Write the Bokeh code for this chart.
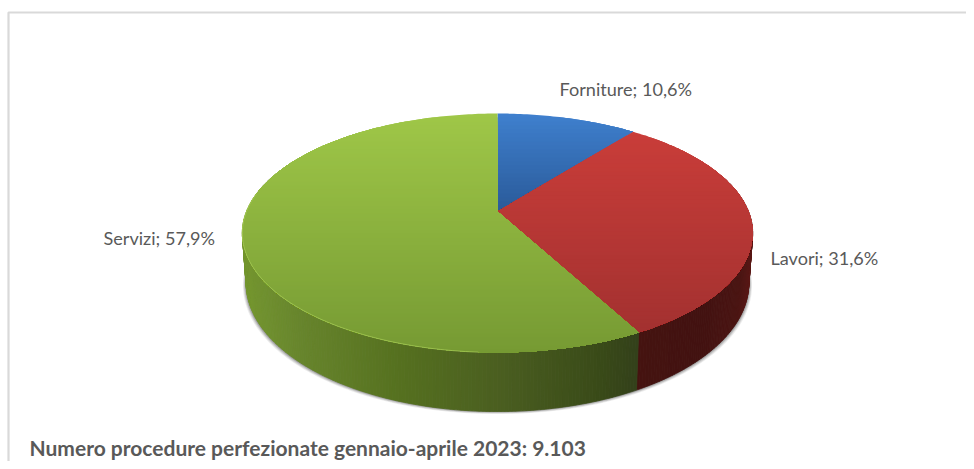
import numpy as np
from bokeh.plotting import figure
from bokeh.models import ColumnDataSource, Range1d
from bokeh.core.properties import value
from bokeh.embed import file_html
from bokeh.resources import INLINE

categories = ["Forniture", "Lavori", "Servizi"]
shares = [10.6, 31.6, 57.9]
footer = "Numero procedure perfezionate gennaio-aprile 2023: 9.103"

# face gradients (top of the slice -> bottom of the slice)
face_top = ["#3f80ce", "#c93d39", "#9fc748"]
face_bottom = ["#2a5a99", "#a33130", "#769a33"]
# side gradients, left to right
side_stops = [
    ([497, 640], ["#26456f", "#26456f"]),
    ([636, 700, 738, 752], ["#451310", "#421210", "#4a1412", "#5e1a17"]),
    ([245, 300, 400, 500, 600, 638], ["#74962f", "#67852c", "#55701f", "#4a5e20", "#394a18", "#33401a"]),
]

# view geometry of the tilted disc
CX, CY, R, B, K, D, RB = 497.0, 211.0, 251.0, 115.6, 0.18, 48.4, 0.985


def top_pt(t):
    u, v = np.sin(t), np.cos(t)
    w = 1 + K * v
    return CX + R * u / w, CY - B * v / w


def bot_pt(t):
    u, v = np.sin(t), np.cos(t)
    w = 1 + K * v
    return CX + RB * R * u / w, CY + (D - B * v) / w


def rgb(h):
    return np.array([int(h[i:i + 2], 16) for i in (1, 3, 5)], float)


def mix(c):
    return "#%02x%02x%02x" % tuple(int(round(x)) for x in c)


def clip_below(poly, y0):
    out = []
    n = len(poly)
    for i in range(n):
        a, b = poly[i], poly[(i + 1) % n]
        ia, ib = a[1] >= y0, b[1] >= y0
        if ia:
            out.append(a)
        if ia != ib:
            f = (y0 - a[1]) / (b[1] - a[1])
            out.append((a[0] + f * (b[0] - a[0]), y0))
    return out


p = figure(width=966, height=461, output_backend="svg", toolbar_location=None,
           x_range=Range1d(0, 966), y_range=Range1d(461, 0), min_border=0)
p.xaxis.visible = False
p.yaxis.visible = False
p.grid.visible = False
p.outline_line_color = None
p.background_fill_color = "white"
p.border_fill_color = "white"

# frame
p.line([8, 8, 966], [461, 12, 12], line_color="#d9d9d9", line_width=2.2)

total = sum(shares)
edges = np.concatenate([[0], np.cumsum(shares)]) / total * 2 * np.pi

# soft shadow under the side wall
tt = np.linspace(np.pi * 0.42, np.pi * 1.58, 240)
for off, al in [(4, 0.10), (3, 0.14), (2, 0.2), (1, 0.25)]:
    bx, by = bot_pt(tt)
    tx, ty = top_pt(tt[::-1])
    p.patch(np.concatenate([bx + np.sign(np.sin(tt)) * off * 0.8, tx]),
            np.concatenate([by + off * 0.6, ty]),
            fill_color="#404040", fill_alpha=al, line_color=None)

# side wall
xs, ys, cs = [], [], []
for i in range(len(shares)):
    a, b = edges[i], edges[i + 1]
    n = max(2, int((b - a) / 0.012))
    ts = np.linspace(a, b, n + 1)
    sx, sc = side_stops[i]
    sc = np.array([rgb(c) for c in sc])
    for t0, t1 in zip(ts[:-1], ts[1:]):
        if np.cos((t0 + t1) / 2) > 0.3:
            continue
        x0, y0 = top_pt(t0)
        x1, y1 = top_pt(t1)
        x2, y2 = bot_pt(t1)
        x3, y3 = bot_pt(t0)
        xm = (x0 + x1 + x2 + x3) / 4
        c = [np.interp(xm, sx, sc[:, j]) for j in range(3)]
        xs.append([x0, x1, x2, x3])
        ys.append([y0, y1, y2, y3])
        cs.append(mix(c))
p.patches("xs", "ys", source=ColumnDataSource(dict(xs=xs, ys=ys, c=cs)),
          fill_color="c", line_color="c", line_width=0.8)

# top faces: overlapping layers, each reaching to the slice's bottom, for the vertical gradient
xs, ys, cs = [], [], []
for i in range(len(shares)):
    ts = np.linspace(edges[i], edges[i + 1], max(8, int((edges[i + 1] - edges[i]) / 0.015)))
    ax, ay = top_pt(ts)
    poly = [(CX, CY)] + list(zip(ax, ay))
    ymin, ymax = min(q[1] for q in poly), max(q[1] for q in poly)
    c0, c1 = rgb(face_top[i]), rgb(face_bottom[i])
    for y0 in np.arange(ymin - 0.01, ymax, 4.0):
        piece = clip_below(poly, y0)
        if len(piece) < 3:
            continue
        f = (y0 + 2 - ymin) / (ymax - ymin)
        xs.append([q[0] for q in piece])
        ys.append([q[1] for q in piece])
        cs.append(mix(c0 + (c1 - c0) * min(f, 1)))
p.patches("xs", "ys", source=ColumnDataSource(dict(xs=xs, ys=ys, c=cs)),
          fill_color="c", line_color=None)

# light rim on the green wall's upper edge
rim = np.linspace(np.pi * 1.02, np.pi * 1.55, 120)
rx, ry = top_pt(rim)
p.line(rx, ry, line_color="#a9cf58", line_width=1, line_alpha=0.7)

# labels
label_x = [559, 770, 103]
label_y = [88, 257, 237]
labels = ["%s; %s%%" % (c, ("%.1f" % s).replace(".", ",")) for c, s in zip(categories, shares)]
p.text(label_x, label_y, text=labels, text_font=value("Lato"), text_font_size="18.1px",
       text_color="#595959", text_baseline="middle", text_align="left")
p.text([29], [447], text=[footer], text_font=value("Lato"), text_font_size="21px",
       text_font_style="bold", text_color="#595959", text_baseline="middle", text_align="left")

open("out.html", "w").write(file_html(p, INLINE))
